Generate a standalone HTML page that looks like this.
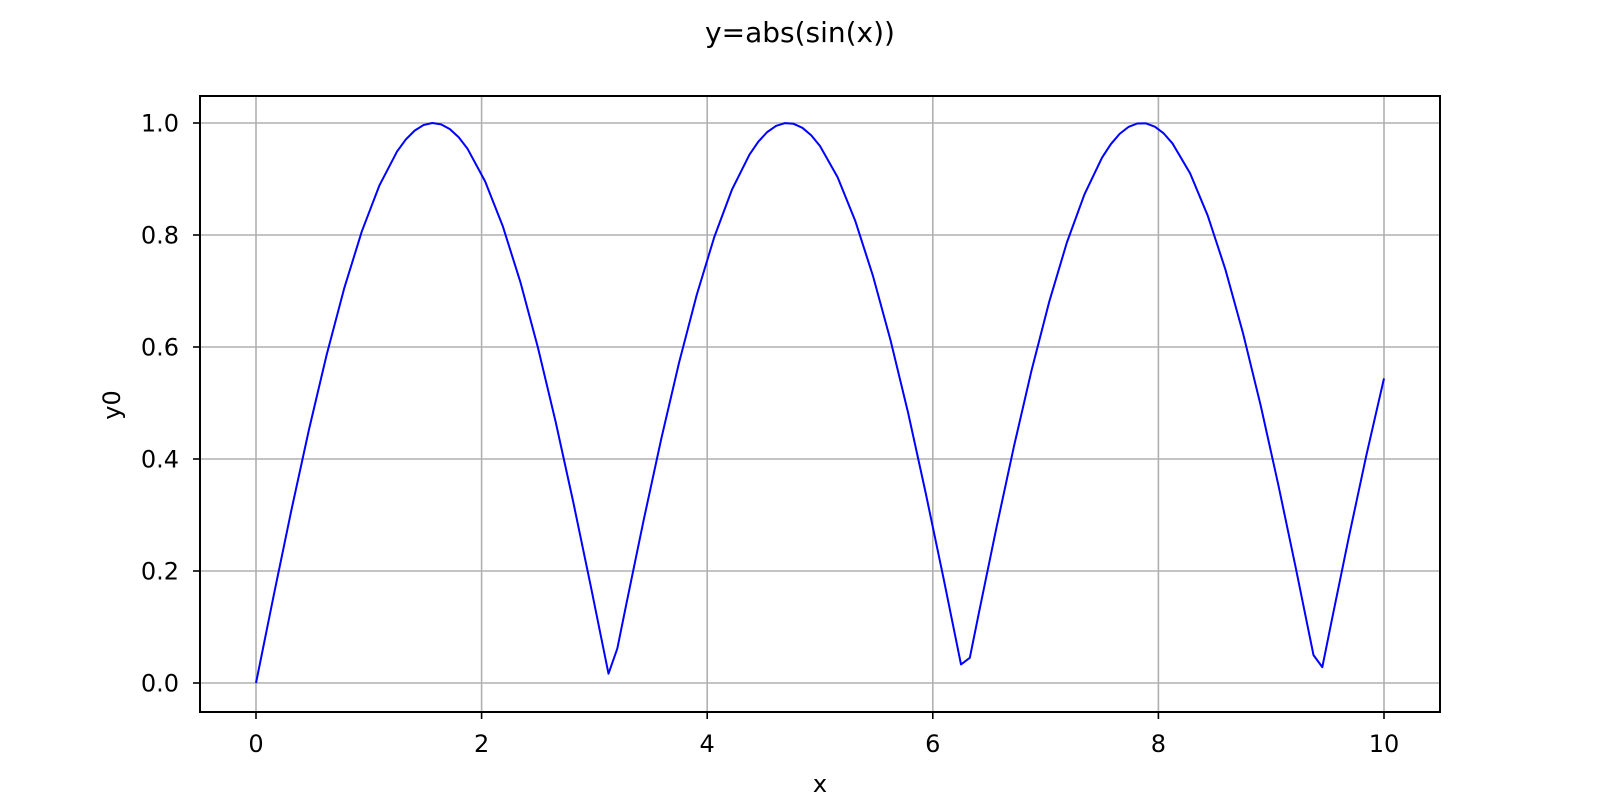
<!DOCTYPE html>
<html><head><meta charset="utf-8"><style>
html,body{margin:0;padding:0;background:#fff;}
svg{display:block;font-family:"DejaVu Sans","Liberation Sans",sans-serif;}
</style></head><body>
<svg id="chart" width="1600" height="800" viewBox="0 0 1600 800">
<text x="800" y="42" font-size="28" text-anchor="middle">y=abs(sin(x))</text>
<g id="grid"></g>
<g id="xticks"></g>
<g id="yticks"></g>
<polyline id="line" fill="none" stroke="#0000ff" stroke-width="2" stroke-linejoin="round"/>
<rect x="200" y="96" width="1240" height="616" fill="none" stroke="#000" stroke-width="2"/>
<text x="820" y="792" font-size="24" text-anchor="middle">x</text>
<text x="0" y="0" font-size="24" text-anchor="middle" transform="translate(120,405) rotate(-90)">y0</text>
</svg>
<script>
const xValues = [0,0.15625,0.3125,0.46875,0.625,0.78125,0.9375,1.09375,1.25,1.328125,1.40625,1.484375,1.5625,1.640625,1.71875,1.796875,1.875,2.03125,2.1875,2.34375,2.5,2.65625,2.8125,2.96875,3.125,3.203125,3.28125,3.4375,3.59375,3.75,3.90625,4.0625,4.21875,4.375,4.453125,4.53125,4.609375,4.6875,4.765625,4.84375,4.921875,5.0,5.15625,5.3125,5.46875,5.625,5.78125,5.9375,6.09375,6.25,6.328125,6.40625,6.5625,6.71875,6.875,7.03125,7.1875,7.34375,7.5,7.578125,7.65625,7.734375,7.8125,7.890625,7.96875,8.046875,8.125,8.28125,8.4375,8.59375,8.75,8.90625,9.0625,9.21875,9.375,9.453125,9.53125,9.6875,9.84375,10];
const yValues = [0,0.1556,0.3075,0.4518,0.5851,0.7043,0.8061,0.8884,0.9490,0.9707,0.9864,0.9963,1.0,0.9976,0.9891,0.9745,0.9541,0.8958,0.8159,0.7160,0.5985,0.4665,0.3232,0.1720,0.0166,0.0615,0.1392,0.2916,0.4369,0.5716,0.6924,0.7962,0.8806,0.9436,0.9666,0.9837,0.9947,0.9997,0.9986,0.9914,0.9781,0.9589,0.9031,0.8253,0.7274,0.6122,0.4823,0.3388,0.1883,0.0332,0.0450,0.1228,0.2758,0.4220,0.5579,0.6802,0.7859,0.8722,0.9380,0.9622,0.9806,0.9929,0.9991,0.9993,0.9934,0.9815,0.9635,0.9101,0.8345,0.7385,0.6247,0.4960,0.3544,0.2046,0.0498,0.0283,0.1063,0.2597,0.4068,0.5440];
const xTicks = [0,2,4,6,8,10];
const yTicks = [0.0,0.2,0.4,0.6,0.8,1.0];
const NS='http://www.w3.org/2000/svg';
function sx(v){return 256+v*112.8;}
function sy(v){return 683-v*560;}
const grid=document.getElementById('grid'), xg=document.getElementById('xticks'), yg=document.getElementById('yticks');
function mk(tag,attrs,parent){const e=document.createElementNS(NS,tag);for(const k in attrs)e.setAttribute(k,attrs[k]);parent.appendChild(e);return e;}
xTicks.forEach(t=>{
  const x=sx(t);
  const g=mk('line',{x1:x,x2:x,y1:96,y2:712,stroke:'#b0b0b0','stroke-width':1.6},grid);
  
  
  const tk=mk('line',{x1:x,x2:x,y1:712,y2:719,stroke:'#000','stroke-width':1.6},xg);
  
  
  const lb=mk('text',{x:x,y:752,'font-size':24,'text-anchor':'middle'},xg);
  lb.textContent=String(t);
  
  
});
yTicks.forEach(t=>{
  const y=sy(t);
  const g=mk('line',{x1:200,x2:1440,y1:y,y2:y,stroke:'#b0b0b0','stroke-width':1.6},grid);
  
  
  const tk=mk('line',{x1:193,x2:200,y1:y,y2:y,stroke:'#000','stroke-width':1.6},yg);
  
  
  const lb=mk('text',{x:179,y:y+8.5,'font-size':24,'text-anchor':'end'},yg);
  lb.textContent=t.toFixed(1);
  
  
});
document.getElementById('line').setAttribute('points',xValues.map((x,i)=>sx(x).toFixed(2)+','+sy(yValues[i]).toFixed(2)).join(' '));
</script>
</body></html>
